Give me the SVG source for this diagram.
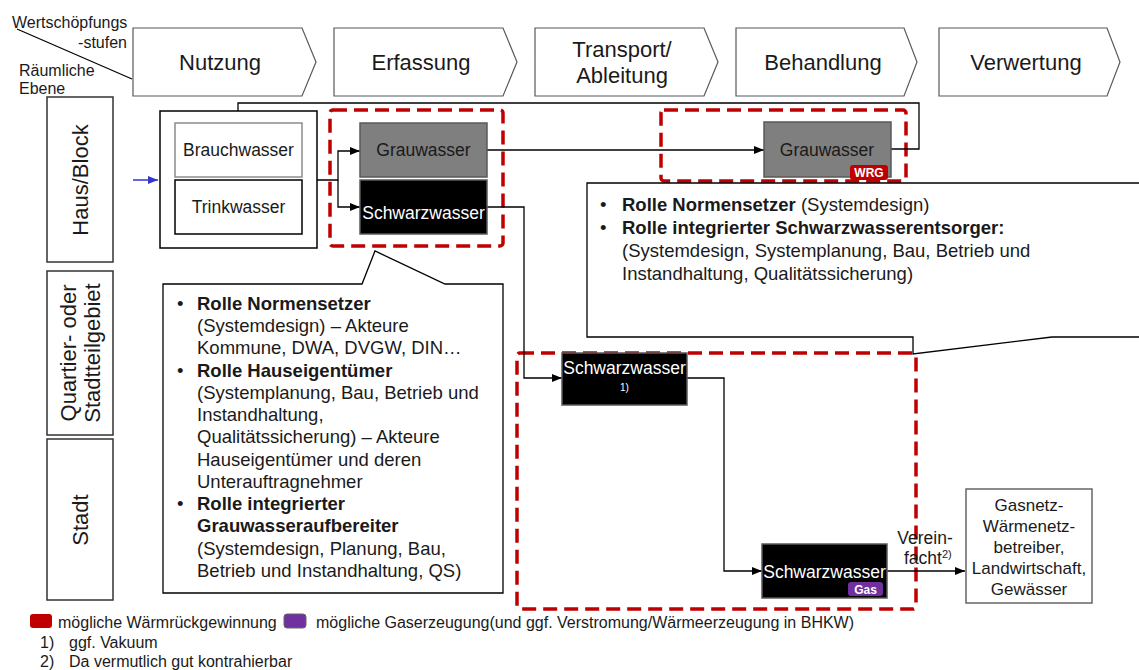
<svg xmlns="http://www.w3.org/2000/svg" width="1139" height="670" viewBox="0 0 1139 670">
  <defs>
    <marker id="arrow" markerWidth="10" markerHeight="8" refX="10" refY="4" orient="auto" markerUnits="userSpaceOnUse">
      <path d="M0,0 L10,4 L0,8 Z" fill="#000"/>
    </marker>
    <marker id="arrowBlue" markerWidth="10" markerHeight="8" refX="10" refY="4" orient="auto" markerUnits="userSpaceOnUse">
      <path d="M0,0 L10,4 L0,8 Z" fill="#3535d0"/>
    </marker>
    <style>
      text { font-family: "Liberation Sans", Arial, sans-serif; fill: #1a1a1a; }
      .stage { fill: #fff; stroke: #595959; stroke-width: 1.2; }
      .stageText { font-size: 22px; text-anchor: middle; }
      .level { fill: #fff; stroke: #333; stroke-width: 1.5; }
      .levelText { font-size: 22px; text-anchor: middle; }
      .corner { font-size: 16px; }
      .zone { fill: none; stroke: #c00000; stroke-width: 3.5; stroke-dasharray: 14 7; }
      .node { font-size: 17.5px; text-anchor: middle; }
      .sink { font-size: 17px; text-anchor: middle; }
      .white { fill: #fff; }
      .grey { fill: #7f7f7f; stroke: #595959; stroke-width: 1.5; }
      .black { fill: #000; stroke: #595959; stroke-width: 1.5; }
      .plain { fill: #fff; stroke: #000; stroke-width: 1.5; }
      .conn { fill: none; stroke: #000; stroke-width: 1.3; }
      .callout { fill: #fff; stroke: #000; stroke-width: 1.3; }
      .ct { font-size: 18.5px; }
      .b { font-weight: bold; }
      .badge { font-size: 12px; font-weight: bold; text-anchor: middle; fill: #fff; }
      .small { font-size: 16px; }
    </style>
  </defs>

  <!-- corner header -->
  <g id="corner">
    <line x1="17" y1="29" x2="132" y2="79" stroke="#000" stroke-width="1.2"/>
    <text class="corner" x="12" y="28">Wertschöpfungs</text>
    <text class="corner" x="127" y="48" text-anchor="end">-stufen</text>
    <text class="corner" x="19" y="76">Räumliche</text>
    <text class="corner" x="19" y="94">Ebene</text>
  </g>

  <!-- value chain stages -->
  <g id="stage-nutzung">
    <path class="stage" d="M133,28 H302 L316,62 L302,96 H133 Z"/>
    <text class="stageText" x="220" y="70">Nutzung</text>
  </g>
  <g id="stage-erfassung">
    <path class="stage" d="M334,28 H503 L517,62 L503,96 H334 Z"/>
    <text class="stageText" x="421" y="70">Erfassung</text>
  </g>
  <g id="stage-transport">
    <path class="stage" d="M535,28 H704 L718,62 L704,96 H535 Z"/>
    <text class="stageText" x="622" y="57">Transport/</text>
    <text class="stageText" x="622" y="83">Ableitung</text>
  </g>
  <g id="stage-behandlung">
    <path class="stage" d="M736,28 H904 L917,62 L904,96 H736 Z"/>
    <text class="stageText" x="823" y="70">Behandlung</text>
  </g>
  <g id="stage-verwertung">
    <path class="stage" d="M939,28 H1107 L1120,62 L1107,96 H939 Z"/>
    <text class="stageText" x="1026" y="70">Verwertung</text>
  </g>

  <!-- spatial levels -->
  <g id="level-haus">
    <rect class="level" x="47" y="97" width="66" height="165"/>
    <text class="levelText" transform="translate(88,180) rotate(-90)">Haus/Block</text>
  </g>
  <g id="level-quartier">
    <rect class="level" x="47" y="271" width="66" height="164"/>
    <text class="levelText" transform="translate(76,353) rotate(-90)">Quartier- oder</text>
    <text class="levelText" transform="translate(100,353) rotate(-90)">Stadtteilgebiet</text>
  </g>
  <g id="level-stadt">
    <rect class="level" x="47" y="439" width="66" height="161"/>
    <text class="levelText" transform="translate(88,520) rotate(-90)">Stadt</text>
  </g>

  <!-- dashed zones -->
  <g id="zones">
    <rect class="zone" x="330" y="110" width="173" height="136" rx="3"/>
    <rect class="zone" x="661" y="110" width="245" height="71" rx="3"/>
    <rect class="zone" x="517" y="353" width="399" height="256" rx="3"/>
  </g>

  <!-- connectors -->
  <g id="connectors">
    <line x1="133" y1="180" x2="158" y2="180" stroke="#3535d0" stroke-width="1.5" marker-end="url(#arrowBlue)"/>
    <path class="conn" d="M317,180 H338 V151 H360" marker-end="url(#arrow)"/>
    <path class="conn" d="M338,180 V207 H360" marker-end="url(#arrow)"/>
    <path class="conn" d="M487,150 H764" marker-end="url(#arrow)"/>
    <path class="conn" d="M238,111 V103 H919 V149 H891"/>
    <path class="conn" d="M487,207 H524 V378 H562" marker-end="url(#arrow)"/>
    <path class="conn" d="M687,378 H724 V571 H762" marker-end="url(#arrow)"/>
    <path class="conn" d="M887,571 H965" marker-end="url(#arrow)"/>
  </g>

  <!-- house level nodes -->
  <g id="node-nutzung">
    <rect class="plain" x="160" y="111" width="157" height="137"/>
  </g>
  <g id="node-brauchwasser">
    <rect x="175" y="123" width="127" height="54" fill="#fff" stroke="#8c8c8c" stroke-width="1.5"/>
    <text class="node" x="238.5" y="156">Brauchwasser</text>
  </g>
  <g id="node-trinkwasser">
    <rect class="plain" x="175" y="180" width="127" height="54"/>
    <text class="node" x="238.5" y="213">Trinkwasser</text>
  </g>
  <g id="node-grauwasser">
    <rect class="grey" x="360" y="123" width="127" height="54"/>
    <text class="node" x="423.5" y="156">Grauwasser</text>
  </g>
  <g id="node-schwarzwasser">
    <rect class="black" x="360" y="180" width="127" height="54"/>
    <text class="node white" x="423.5" y="219">Schwarzwasser</text>
  </g>
  <g id="node-grauwasser-wrg">
    <rect class="grey" x="764" y="122" width="127" height="55"/>
    <text class="node" x="827" y="156">Grauwasser</text>
    <rect x="850" y="165" width="38" height="15" rx="3" fill="#c00000"/>
    <text class="badge" x="869" y="177">WRG</text>
  </g>

  <!-- district / city nodes -->
  <g id="node-schwarzwasser-quartier">
    <rect class="black" x="562" y="353" width="125" height="52"/>
    <text class="node white" x="624.5" y="374">Schwarzwasser</text>
    <text class="white" x="624.5" y="391" font-size="10" text-anchor="middle">1)</text>
  </g>
  <g id="node-schwarzwasser-gas">
    <rect class="black" x="762" y="544" width="125" height="54"/>
    <text class="node white" x="824.5" y="578">Schwarzwasser</text>
    <rect x="848" y="582" width="35" height="14" rx="3" fill="#7030a0"/>
    <text class="badge" x="865.5" y="593.5">Gas</text>
  </g>
  <g id="label-vereinfacht">
    <text class="node" x="925" y="544">Verein-</text>
    <text x="904" y="564" font-size="17.5">facht<tspan font-size="11" dy="-6">2)</tspan></text>
  </g>
  <g id="node-abnehmer">
    <rect x="966" y="489" width="126" height="114" fill="#fff" stroke="#666" stroke-width="1.5"/>
    <text class="sink" x="1029" y="511">Gasnetz-</text>
    <text class="sink" x="1029" y="532">Wärmenetz-</text>
    <text class="sink" x="1029" y="553">betreiber,</text>
    <text class="sink" x="1029" y="574">Landwirtschaft,</text>
    <text class="sink" x="1029" y="595">Gewässer</text>
  </g>

  <!-- role callouts -->
  <g id="callout-haus">
    <path class="callout" d="M163,284 H362 L375,251 L445,284 H503 V593 H163 Z"/>
    <g class="ct">
      <text x="177" y="310">•</text>
      <text x="197" y="310" class="b">Rolle Normensetzer</text>
      <text x="197" y="332">(Systemdesign) – Akteure</text>
      <text x="197" y="354">Kommune, DWA, DVGW, DIN…</text>
      <text x="177" y="377">•</text>
      <text x="197" y="377" class="b">Rolle Hauseigentümer</text>
      <text x="197" y="399">(Systemplanung, Bau, Betrieb und</text>
      <text x="197" y="421">Instandhaltung,</text>
      <text x="197" y="443">Qualitätssicherung) – Akteure</text>
      <text x="197" y="466">Hauseigentümer und deren</text>
      <text x="197" y="488">Unterauftragnehmer</text>
      <text x="177" y="510">•</text>
      <text x="197" y="510" class="b">Rolle integrierter</text>
      <text x="197" y="532" class="b">Grauwasseraufbereiter</text>
      <text x="197" y="555">(Systemdesign, Planung, Bau,</text>
      <text x="197" y="577">Betrieb und Instandhaltung, QS)</text>
    </g>
  </g>
  <g id="callout-schwarzwasser">
    <path class="callout" d="M587,183 H1145 V337 H1052 L913,354 V337 H587 Z"/>
    <g class="ct">
      <text x="600" y="211">•</text>
      <text x="622" y="211"><tspan class="b">Rolle Normensetzer</tspan> (Systemdesign)</text>
      <text x="600" y="234">•</text>
      <text x="622" y="234" class="b">Rolle integrierter Schwarzwasserentsorger:</text>
      <text x="622" y="257">(Systemdesign, Systemplanung, Bau, Betrieb und</text>
      <text x="622" y="280">Instandhaltung, Qualitätssicherung)</text>
    </g>
  </g>

  <!-- legend and footnotes -->
  <g id="legend">
    <rect x="30" y="614" width="22" height="14" rx="3" fill="#c00000"/>
    <text class="small" x="58" y="628">mögliche Wärmrückgewinnung</text>
    <rect x="284" y="614" width="22" height="14" rx="3" fill="#7030a0" stroke="#666" stroke-width="1"/>
    <text class="small" x="316" y="628">mögliche Gaserzeugung(und ggf. Verstromung/Wärmeerzeugung in BHKW)</text>
    <text class="small" x="40" y="648">1)</text>
    <text class="small" x="69" y="648">ggf. Vakuum</text>
    <text class="small" x="40" y="667">2)</text>
    <text class="small" x="69" y="667">Da vermutlich gut kontrahierbar</text>
  </g>
</svg>
